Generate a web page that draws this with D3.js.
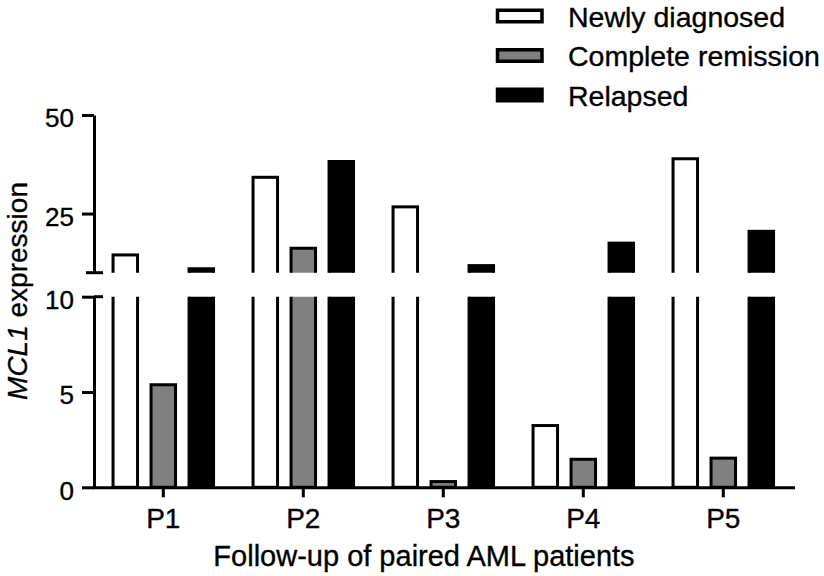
<!DOCTYPE html>
<html><head><meta charset="utf-8">
<script src="https://cdn.jsdelivr.net/npm/d3@7"></script>
<style>
body{margin:0;background:#fff}
svg{display:block}
text{font-family:"Liberation Sans",Arial,Helvetica,sans-serif;fill:#000;stroke:#000;stroke-width:0.35px}
</style>
</head><body>
<svg id="c" width="824" height="576"></svg>
<script>
const categories = ["P1", "P2", "P3", "P4", "P5"];
const seriesNames = ["Newly diagnosed", "Complete remission", "Relapsed"];
const newlyDiagnosed = [14.5, 34.2, 26.7, 3.24, 38.9];
const completeRemission = [5.38, 16.2, 0.3, 1.47, 1.53];
const relapsed = [11.0, 38.2, 11.8, 17.5, 20.5];
const yTicksLower = [0, 5, 10];
const yTicksUpper = [25, 50];
const xTitle = "Follow-up of paired AML patients";

const fills = ["#ffffff", "#808080", "#000000"];
const BREAK = 10;
const svg = d3.select("#c");

const x0 = d3.scaleBand().domain(categories).range([93.3, 793.3]).padding(0);
const x1 = d3.scalePoint().domain(seriesNames).range([-38, 38]);
const barW = 24.5;
const yLo = d3.scaleLinear().domain([0, BREAK]).range([487.3, 296.7]);
const yUp = d3.scaleLinear().domain([BREAK, 50]).range([272.7, 115]);
const axisXPos = 94;

const values = [newlyDiagnosed, completeRemission, relapsed];
const rows = [];
categories.forEach((c, i) => seriesNames.forEach((s, j) => rows.push({c, s, j, v: values[j][i]})));
const cx = d => x0(d.c) + x0.bandwidth() / 2 + x1(d.s);

const defs = svg.append("defs");
defs.append("clipPath").attr("id", "clipLo").append("rect")
  .attr("x", 0).attr("y", yLo(BREAK)).attr("width", 824).attr("height", 600);
defs.append("clipPath").attr("id", "clipUp").append("rect")
  .attr("x", 0).attr("y", 0).attr("width", 824).attr("height", yUp(BREAK));

// lower segment bars
const loTop = d => d.v > BREAK ? yLo(BREAK) - 10 : yLo(d.v);
svg.append("g").attr("clip-path", "url(#clipLo)")
  .selectAll("rect").data(rows).join("rect")
  .attr("x", d => cx(d) - barW / 2)
  .attr("width", barW)
  .attr("y", loTop)
  .attr("height", d => yLo(0) - loTop(d))
  .attr("fill", d => fills[d.j])
  .attr("stroke", "#000").attr("stroke-width", 3);

// upper segment bars
svg.append("g").attr("clip-path", "url(#clipUp)")
  .selectAll("rect").data(rows.filter(d => d.v > BREAK)).join("rect")
  .attr("x", d => cx(d) - barW / 2)
  .attr("width", barW)
  .attr("y", d => yUp(d.v))
  .attr("height", d => yUp(BREAK) + 10 - yUp(d.v))
  .attr("fill", d => fills[d.j])
  .attr("stroke", "#000").attr("stroke-width", 3);

function styleAxis(g) {
  g.selectAll("path.domain").attr("stroke-width", 3);
  g.selectAll(".tick line").attr("stroke-width", 3);
  g.selectAll("text").attr("font-size", 26).attr("fill", "#000");
}

// y axes
const gLo = svg.append("g").attr("transform", `translate(${axisXPos},0)`)
  .call(d3.axisLeft(yLo).tickValues(yTicksLower).tickSize(12).tickSizeOuter(0).tickPadding(8));
styleAxis(gLo);
gLo.selectAll("text").attr("dy", "0.45em");
const gUp = svg.append("g").attr("transform", `translate(${axisXPos},0)`)
  .call(d3.axisLeft(yUp).tickValues(yTicksUpper).tickSize(12).tickSizeOuter(0).tickPadding(8));
styleAxis(gUp);
gUp.selectAll("text").attr("dy", "0.45em");
// break caps
svg.append("line").attr("x1", axisXPos - 8).attr("x2", axisXPos + 9)
  .attr("y1", yUp(BREAK)).attr("y2", yUp(BREAK)).attr("stroke", "#000").attr("stroke-width", 3);
svg.append("line").attr("x1", axisXPos).attr("x2", axisXPos + 9)
  .attr("y1", yLo(BREAK)).attr("y2", yLo(BREAK)).attr("stroke", "#000").attr("stroke-width", 3);

// x axis
const gx = svg.append("g").attr("transform", `translate(0,${yLo(0)})`)
  .call(d3.axisBottom(x0).tickSize(10).tickSizeOuter(0).tickPadding(11));
styleAxis(gx);
gx.selectAll("text").attr("font-size", 28);
gx.select("path.domain").attr("d", `M${axisXPos - 1.5},0.5H795`);

// x title
svg.append("text").attr("x", 424).attr("y", 566).attr("text-anchor", "middle")
  .attr("font-size", 29).text(xTitle);

// y title
const yt = svg.append("text").attr("transform", "translate(27,291) rotate(-90)")
  .attr("text-anchor", "middle").attr("font-size", 28);
yt.append("tspan").attr("font-style", "italic").text("MCL1");
yt.append("tspan").text(" expression");

// legend
const legY = [16, 55.5, 95];
const leg = svg.append("g").selectAll("g").data(seriesNames).join("g")
  .attr("transform", (d, i) => `translate(0,${legY[i]})`);
leg.append("rect").attr("x", 497.5).attr("y", -5.75).attr("width", 44.5).attr("height", 11.5)
  .attr("fill", (d, i) => fills[i]).attr("stroke", "#000").attr("stroke-width", 3.5);
leg.append("text").attr("x", 568).attr("y", 10.8).attr("font-size", 28.5).text(d => d);
</script>
</body></html>
